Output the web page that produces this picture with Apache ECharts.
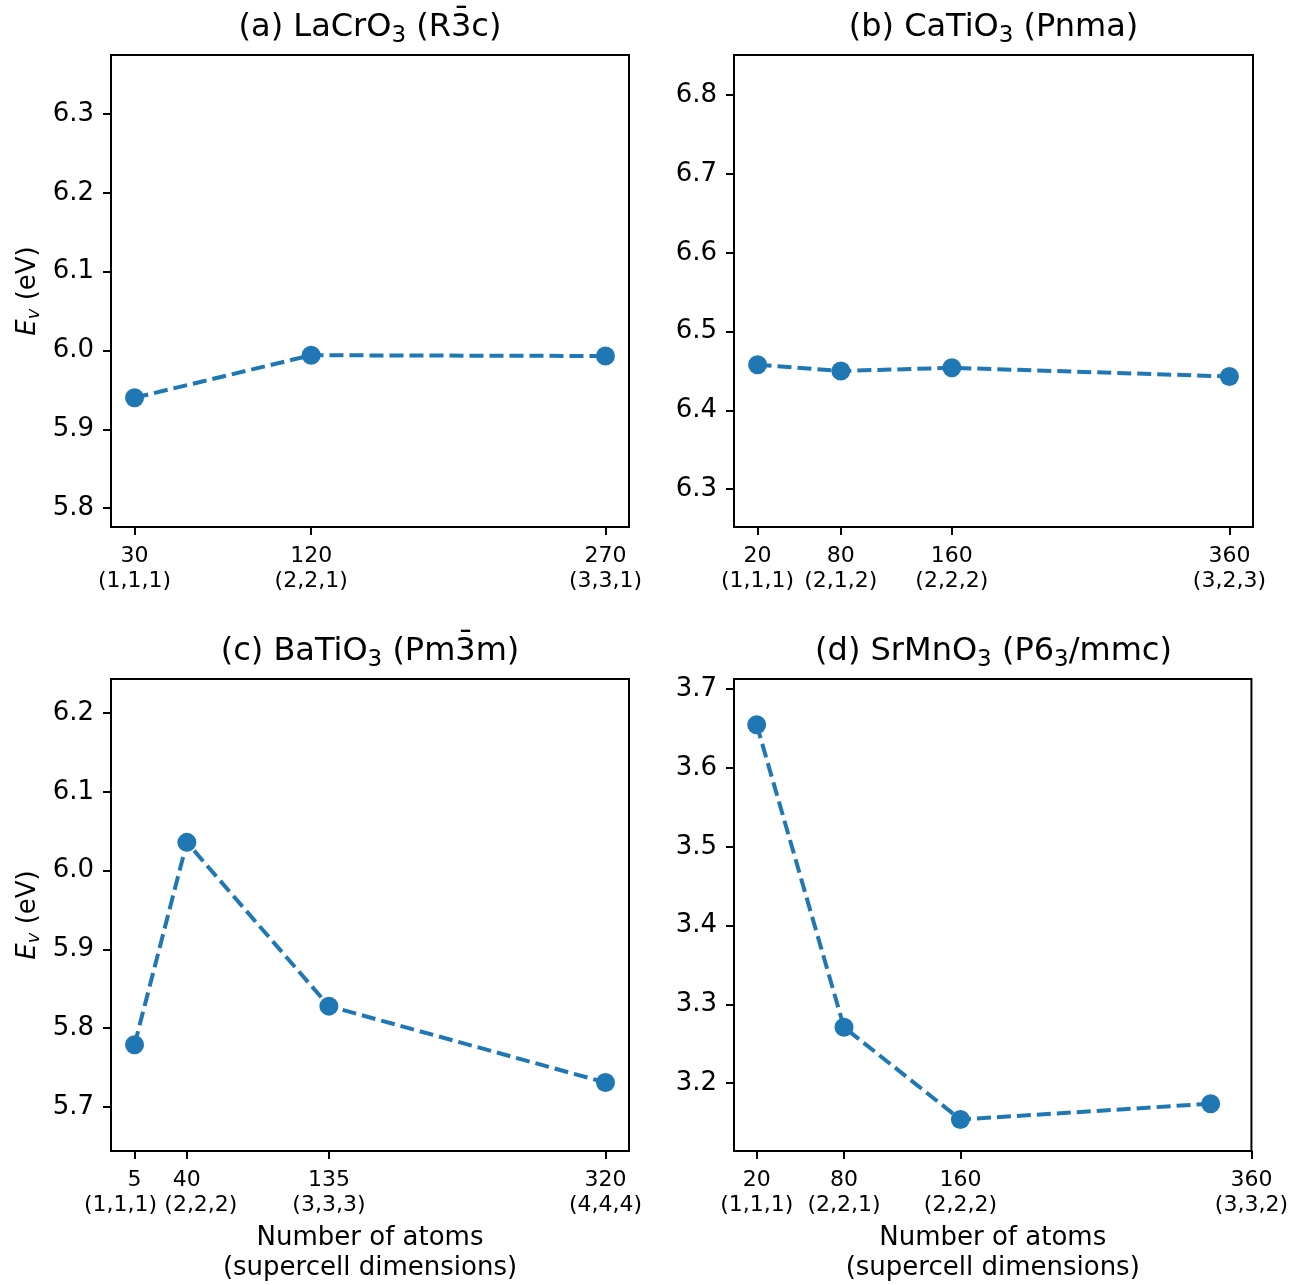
<!DOCTYPE html>
<html>
<head>
<meta charset="utf-8">
<script src="https://cdn.jsdelivr.net/npm/echarts@6/dist/echarts.min.js"></script>
<style>
html,body{margin:0;padding:0;background:#fff;}
#chart{width:1291px;height:1285px;}
</style>
</head>
<body>
<div id="chart"></div>
<script>
// ---- data ----
const atomsA = [30, 120, 270];
const evA = [5.940, 5.994, 5.993];
const tickA = [30, 120, 270];
const dimsA = ['(1,1,1)', '(2,2,1)', '(3,3,1)'];
const yTicksA = [5.8, 5.9, 6.0, 6.1, 6.2, 6.3];

const atomsB = [20, 80, 160, 360];
const evB = [6.458, 6.450, 6.454, 6.443];
const tickB = [20, 80, 160, 360];
const dimsB = ['(1,1,1)', '(2,1,2)', '(2,2,2)', '(3,2,3)'];
const yTicksB = [6.3, 6.4, 6.5, 6.6, 6.7, 6.8];

const atomsC = [5, 40, 135, 320];
const evC = [5.779, 6.036, 5.828, 5.731];
const tickC = [5, 40, 135, 320];
const dimsC = ['(1,1,1)', '(2,2,2)', '(3,3,3)', '(4,4,4)'];
const yTicksC = [5.7, 5.8, 5.9, 6.0, 6.1, 6.2];

const atomsD = [20, 80, 160, 332];
const evD = [3.655, 3.271, 3.154, 3.174];
const tickD = [20, 80, 160, 360];
const dimsD = ['(1,1,1)', '(2,2,1)', '(2,2,2)', '(3,3,2)'];
const yTicksD = [3.2, 3.3, 3.4, 3.5, 3.6, 3.7];

const titles = [
  '(a) LaCrO{s|3} (R3\u0304c)',
  '(b) CaTiO{s|3} (Pnma)',
  '(c) BaTiO{s|3} (Pm3\u0304m)',
  '(d) SrMnO{s|3} (P6{s|3}/mmc)'
];
const xRanges = [[18, 282], [3, 377], [-10.75, 335.75], [4.4, 360]];
const yRanges = [[5.776, 6.375], [6.252, 6.851], [5.644, 6.2435], [3.114, 3.713]];

// ---- layout ----
const FONT = 'DejaVu Sans';
const BLUE = '#1f77b4';
const grids = [
  {left: 111, top: 55, width: 518, height: 472},
  {left: 734, top: 55, width: 519, height: 472},
  {left: 111, top: 679, width: 518, height: 472},
  {left: 734, top: 679, width: 519, height: 472}
];
const panels = [
  {x: atomsA, y: evA, ticks: tickA, dims: dimsA, yt: yTicksA},
  {x: atomsB, y: evB, ticks: tickB, dims: dimsB, yt: yTicksB},
  {x: atomsC, y: evC, ticks: tickC, dims: dimsC, yt: yTicksC},
  {x: atomsD, y: evD, ticks: tickD, dims: dimsD, yt: yTicksD}
];

const lab = {fontFamily: FONT, fontSize: 22, color: '#000', lineHeight: 25};
const richX = {
  n: lab,
  l: Object.assign({}, lab, {padding: [0, 28, 0, 0]}),
  r: Object.assign({}, lab, {padding: [0, 0, 0, 28]})
};
function tickText(p, v, nudgeSide) {
  const k = p.ticks.indexOf(v);
  if (k < 0) return '';
  if (nudgeSide) return '{n|' + v + '}\n{' + nudgeSide + '|' + p.dims[k] + '}';
  return v + '\n' + p.dims[k];
}

const xAxes = panels.map((p, i) => ({
  type: 'value',
  gridIndex: i,
  position: 'bottom',
  min: xRanges[i][0],
  max: xRanges[i][1],
  splitLine: {show: false},
  axisLine: {show: true, onZero: false, lineStyle: {color: '#000', width: 2}},
  axisTick: {show: true, customValues: p.ticks, length: 8, lineStyle: {color: '#000', width: 2}},
  axisLabel: {
    // panel (c): the first tick label is drawn by a companion axis to keep the crowded pair apart
    customValues: i === 2 ? p.ticks.slice(1) : p.ticks,
    showMinLabel: true,
    showMaxLabel: true,
    hideOverlap: false,
    margin: 17,
    fontFamily: FONT, fontSize: 22, color: '#000', lineHeight: 25,
    formatter: v => tickText(p, v, (i === 2 && v === p.ticks[1]) ? 'r' : null),
    rich: richX
  },
  name: i >= 2 ? 'Number of atoms\n(supercell dimensions)' : '',
  nameLocation: 'middle',
  nameGap: 72,
  nameTextStyle: {fontFamily: FONT, fontSize: 26, color: '#000', lineHeight: 30}
}));
// companion axis for panel (c) first label
xAxes.push({
  type: 'value',
  gridIndex: 2,
  position: 'bottom',
  offset: 0,
  min: xRanges[2][0],
  max: xRanges[2][1],
  splitLine: {show: false},
  axisLine: {show: false},
  axisTick: {show: false},
  axisLabel: {
    customValues: [tickC[0]],
    showMinLabel: true,
    showMaxLabel: true,
    margin: 17,
    fontFamily: FONT, fontSize: 22, color: '#000', lineHeight: 25,
    formatter: v => tickText(panels[2], v, 'l'),
    rich: richX
  }
});

const option = {
  animation: false,
  backgroundColor: '#fff',
  title: grids.map((g, i) => ({
    text: titles[i],
    left: g.left + g.width / 2,
    top: g.top - 27,
    textAlign: 'center',
    textVerticalAlign: 'middle',
    padding: 0,
    textStyle: {
      fontFamily: FONT, fontSize: 32, fontWeight: 'normal', color: '#000',
      rich: {s: {fontFamily: FONT, fontSize: 23, color: '#000', padding: [16, 0, 0, 0]}}
    }
  })),
  grid: grids.map(g => Object.assign({
    show: true, borderColor: '#000', borderWidth: 2, backgroundColor: 'transparent', containLabel: false
  }, g)),
  xAxis: xAxes,
  yAxis: panels.map((p, i) => ({
    type: 'value',
    gridIndex: i,
    min: yRanges[i][0],
    max: yRanges[i][1],
    splitLine: {show: false},
    axisLine: {show: true, onZero: false, lineStyle: {color: '#000', width: 2}},
    axisTick: {show: true, customValues: p.yt, length: 8, lineStyle: {color: '#000', width: 2}},
    axisLabel: {
      customValues: p.yt,
      showMinLabel: true,
      showMaxLabel: true,
      margin: 17,
      fontFamily: FONT, fontSize: 26, color: '#000',
      formatter: v => v.toFixed(1)
    },
    name: (i % 2 === 0) ? '{e|E}{v|v} (eV)' : '',
    nameLocation: 'middle',
    nameRotate: 90,
    nameGap: 68,
    nameTextStyle: {
      fontFamily: FONT, fontSize: 26, color: '#000',
      rich: {
        e: {fontFamily: FONT, fontSize: 26, fontStyle: 'italic', color: '#000'},
        v: {fontFamily: FONT, fontSize: 18, fontStyle: 'italic', color: '#000', padding: [12, 0, 0, 0]}
      }
    }
  })),
  series: panels.map((p, i) => ({
    type: 'line',
    xAxisIndex: i,
    yAxisIndex: i,
    data: p.x.map((x, k) => [x, p.y[k]]),
    symbol: 'circle',
    symbolSize: 19,
    itemStyle: {color: BLUE},
    lineStyle: {color: BLUE, width: 4, type: [14, 6]},
    clip: false
  }))
};

const chart = echarts.init(document.getElementById('chart'), null, {renderer: 'canvas'});
chart.setOption(option);
</script>
</body>
</html>
